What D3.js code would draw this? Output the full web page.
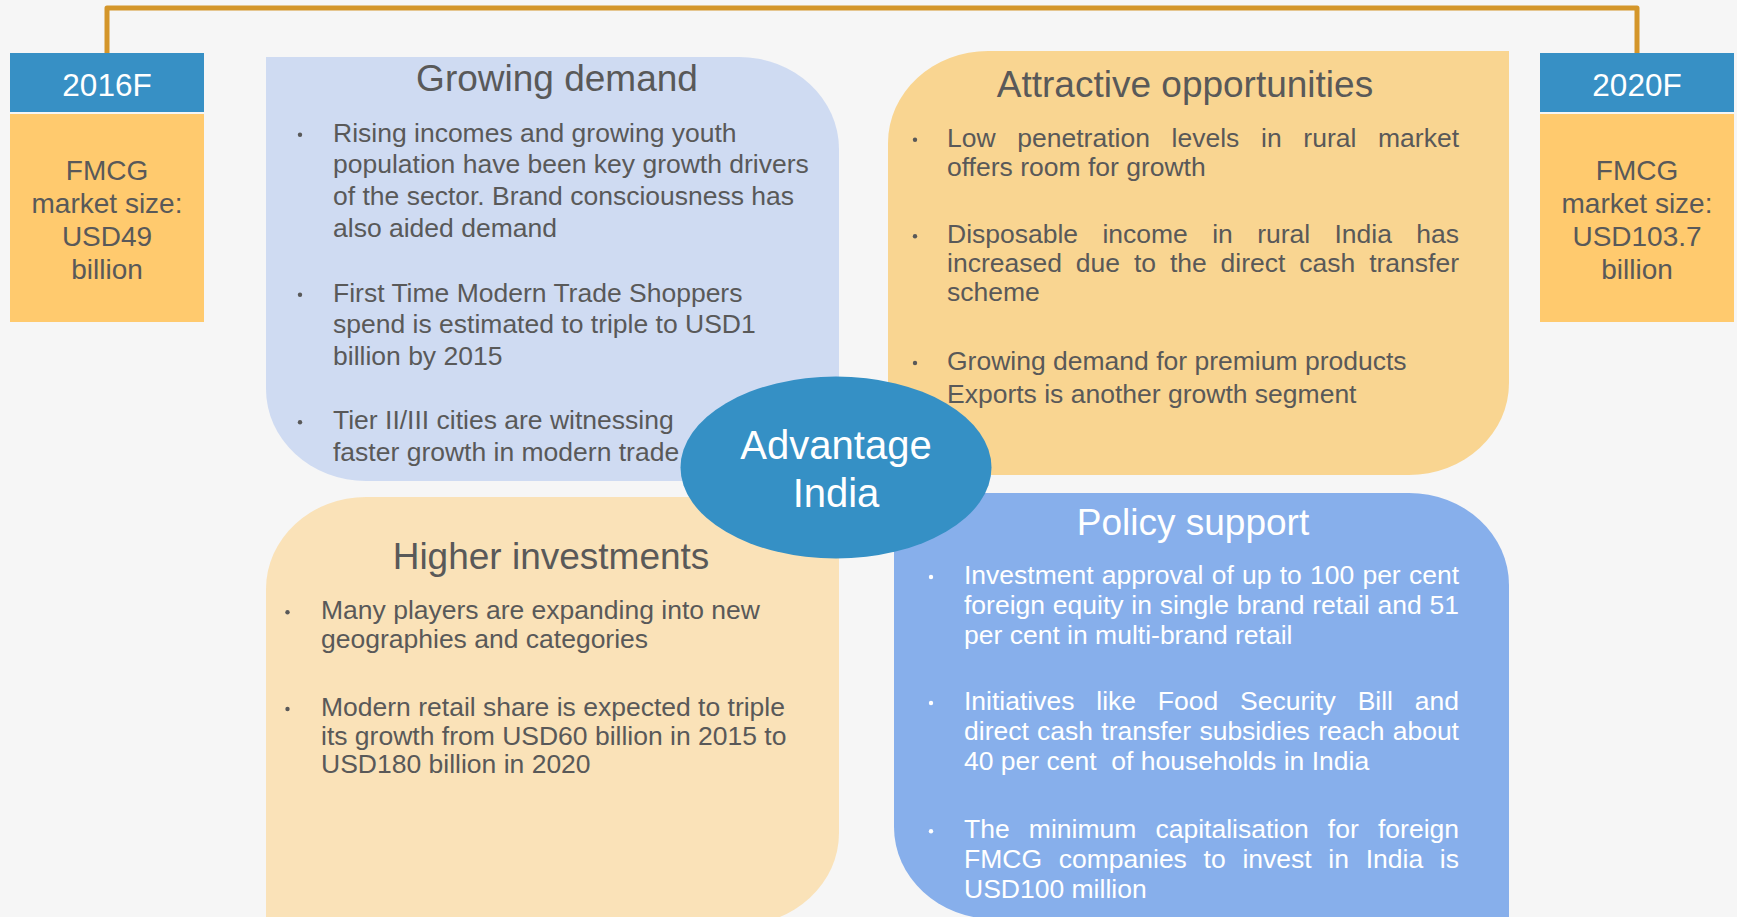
<!DOCTYPE html>
<html>
<head>
<meta charset="utf-8">
<script src="https://cdn.jsdelivr.net/npm/d3@7"></script>
<style>
	html, body { margin: 0; padding: 0; background: #f6f6f6; }
	svg { display: block; }
	text { font-family: "Liberation Sans", Arial, sans-serif; white-space: pre; }
</style>
</head>
<body>
<svg id="chart" width="1737" height="917"></svg>
<script>
// --- content ---
var years = ['2016F', '2020F'];
var marketSizes = ['USD49', 'USD103.7'];
var sizeLead = ['FMCG', 'market size:'];
var sizeUnit = 'billion';
var centerLabel = ['Advantage', 'India'];
var panelTitles = ['Growing demand', 'Attractive opportunities', 'Higher investments', 'Policy support'];

var growingDemand = [
	['Rising incomes and growing youth', 'population have been key growth drivers', 'of the sector. Brand consciousness has', 'also aided demand'],
	['First Time Modern Trade Shoppers', 'spend is estimated to triple to USD1', 'billion by 2015'],
	['Tier II/III cities are witnessing', 'faster growth in modern trade']
];
var attractiveOpportunities = [
	['Low penetration levels in rural market', 'offers room for growth'],
	['Disposable income in rural India has', 'increased due to the direct cash transfer', 'scheme'],
	['Growing demand for premium products'],
	['Exports is another growth segment']
];
var higherInvestments = [
	['Many players are expanding into new', 'geographies and categories'],
	['Modern retail share is expected to triple', 'its growth from USD60 billion in 2015 to', 'USD180 billion in 2020']
];
var policySupport = [
	['Investment approval of up to 100 per cent', 'foreign equity in single brand retail and 51', 'per cent in multi-brand retail'],
	['Initiatives like Food Security Bill and', 'direct cash transfer subsidies reach about', '40 per cent  of households in India'],
	['The minimum capitalisation for foreign', 'FMCG companies to invest in India is', 'USD100 million']
];

// --- layout ---
var W = 1737, H = 917;
var grey = '#595959';
var bodySize = 26.5, titleSize = 37;

var svg = d3.select('#chart');
svg.append('rect').attr('width', W).attr('height', H).attr('fill', '#f6f6f6');

var panelFill = d3.scaleOrdinal()
	.domain(panelTitles)
	.range(['#cfdbf2', '#f9d591', '#fae2b8', '#87afeb']);

// centres of the two side boxes
var boxX = d3.scalePoint().domain(years).range([107, 1637]);
var boxW = 194;

// connector bracket
svg.append('path')
	.attr('d', 'M' + boxX(years[0]) + ',54V8H' + boxX(years[1]) + 'V54')
	.attr('fill', 'none')
	.attr('stroke', '#d4962a')
	.attr('stroke-width', 5)
	.attr('stroke-linejoin', 'round');

var boxes = svg.selectAll('g.box')
	.data(years)
	.enter().append('g')
	.attr('class', 'box')
	.attr('transform', function (d) { return 'translate(' + boxX(d) + ',0)'; });

boxes.append('rect')
	.attr('x', -boxW / 2).attr('y', 53)
	.attr('width', boxW).attr('height', 59)
	.attr('fill', '#3790c5');

boxes.append('rect')
	.attr('x', -boxW / 2).attr('y', 114)
	.attr('width', boxW).attr('height', 208)
	.attr('fill', '#ffca6e');

boxes.append('text')
	.attr('y', 95.5)
	.attr('text-anchor', 'middle')
	.attr('font-size', 31.5)
	.attr('fill', '#fff')
	.text(function (d) { return d; });

boxes.each(function (d, i) {
	var lines = sizeLead.concat([marketSizes[i], sizeUnit]);
	d3.select(this).selectAll('text.size')
		.data(lines)
		.enter().append('text')
		.attr('class', 'size')
		.attr('y', function (l, j) { return 179.5 + j * 33.2; })
		.attr('text-anchor', 'middle')
		.attr('font-size', 28)
		.attr('fill', grey)
		.text(function (l) { return l; });
});

// the four panels
var panels = [
	{title: panelTitles[0], paras: growingDemand, x0: 266, x1: 839, y0: 57, y1: 481, tl: false,
		titleX: 557, titleY: 90.7, dotX: 300, textX: 333, rightX: 0,
		paraY: [141.7, 301.7, 429.3], lineH: 31.7, color: grey, justify: false, bulletless: []},
	{title: panelTitles[1], paras: attractiveOpportunities, x0: 888, x1: 1509, y0: 51, y1: 475, tl: true,
		titleX: 1185, titleY: 96.7, dotX: 915, textX: 947, rightX: 1459,
		paraY: [146.7, 243.3, 370, 403.3], lineH: 29, color: grey, justify: true, bulletless: [3]},
	{title: panelTitles[2], paras: higherInvestments, x0: 266, x1: 839, y0: 497, y1: 925, tl: true,
		titleX: 551, titleY: 569.3, dotX: 287.5, textX: 321, rightX: 0,
		paraY: [619.3, 716], lineH: 28.7, color: grey, justify: false, bulletless: []},
	{title: panelTitles[3], paras: policySupport, x0: 894, x1: 1509, y0: 493, y1: 919, tl: false,
		titleX: 1193, titleY: 535, dotX: 931, textX: 964, rightX: 1459,
		paraY: [584, 710, 838.3], lineH: 29.8, color: '#fff', justify: true, bulletless: []}
];

function panelPath(p) {
	var rx = 100, ry = 92;
	var arc = 'A' + rx + ',' + ry + ' 0 0 1 ';
	var d;
	if (p.tl) {
		d = 'M' + p.x0 + ',' + (p.y0 + ry) + arc + (p.x0 + rx) + ',' + p.y0 +
			'H' + p.x1 +
			'V' + (p.y1 - ry) + arc + (p.x1 - rx) + ',' + p.y1 +
			'H' + p.x0 + 'Z';
	} else {
		d = 'M' + p.x0 + ',' + p.y0 +
			'H' + (p.x1 - rx) + arc + p.x1 + ',' + (p.y0 + ry) +
			'V' + p.y1 +
			'H' + (p.x0 + rx) + arc + p.x0 + ',' + (p.y1 - ry) + 'Z';
	}
	return d;
}

// spread words so the line runs from x to right
function justified(g, str, x, right, y, color) {
	var words = str.split(/\s+/);
	var t = g.append('text').attr('y', y).attr('font-size', bodySize).attr('fill', color);
	var widths = words.map(function (w) {
		var tmp = t.append('tspan').text(w);
		var wd = tmp.node().getComputedTextLength();
		tmp.remove();
		return wd;
	});
	var gap = (right - x - d3.sum(widths)) / (words.length - 1);
	var cx = x;
	words.forEach(function (w, i) {
		t.append('tspan').attr('x', cx).text(w);
		cx += widths[i] + gap;
	});
}

var pg = svg.selectAll('g.panel')
	.data(panels)
	.enter().append('g')
	.attr('class', 'panel');

pg.append('path')
	.attr('d', panelPath)
	.attr('fill', function (p) { return panelFill(p.title); });

pg.append('text')
	.attr('x', function (p) { return p.titleX; })
	.attr('y', function (p) { return p.titleY; })
	.attr('text-anchor', 'middle')
	.attr('font-size', titleSize)
	.attr('fill', function (p) { return p.color; })
	.text(function (p) { return p.title; });

pg.each(function (p) {
	var g = d3.select(this);
	p.paras.forEach(function (lines, pi) {
		var top = p.paraY[pi];
		if (p.bulletless.indexOf(pi) < 0) {
			g.append('circle')
				.attr('cx', p.dotX)
				.attr('cy', top - 7)
				.attr('r', 2.2)
				.attr('fill', p.color);
		}
		lines.forEach(function (line, li) {
			var y = top + li * p.lineH;
			if (p.justify && li < lines.length - 1) {
				justified(g, line, p.textX, p.rightX, y, p.color);
			} else {
				g.append('text')
					.attr('x', p.textX)
					.attr('y', y)
					.attr('font-size', bodySize)
					.attr('fill', p.color)
					.text(line);
			}
		});
	});
});

// centre ellipse
var centre = svg.append('g');
centre.append('ellipse')
	.attr('cx', 836).attr('cy', 467.5)
	.attr('rx', 155.5).attr('ry', 91)
	.attr('fill', '#3590c5');

centre.selectAll('text')
	.data(centerLabel)
	.enter().append('text')
	.attr('x', 836)
	.attr('y', function (d, i) { return 459.3 + i * 47.4; })
	.attr('text-anchor', 'middle')
	.attr('font-size', 40)
	.attr('fill', '#fff')
	.text(function (d) { return d; });
</script>
</body>
</html>
